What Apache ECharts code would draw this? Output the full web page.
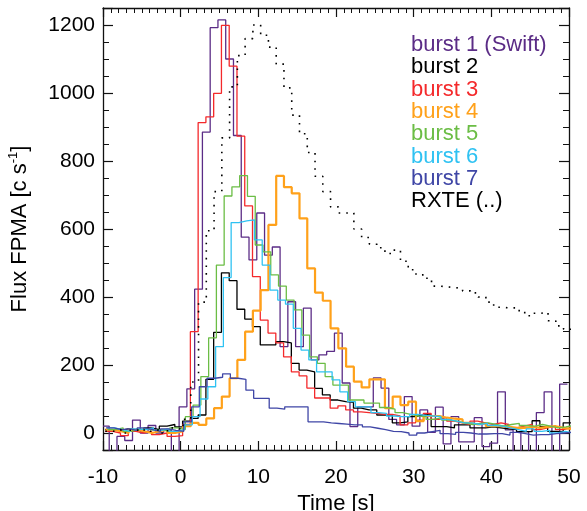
<!DOCTYPE html>
<html><head><meta charset="utf-8">
<script src="https://cdn.jsdelivr.net/npm/echarts@6/dist/echarts.min.js"></script>
<style>html,body{margin:0;padding:0;background:#fff}#c{width:587px;height:511px}</style>
</head><body><div id="c"></div>
<script>
// Bin index k runs from -10 to 49 (1 s bins); each light curve has its own bin-edge offset (s)
const firstBin = -10;
const binWidth = 1;
const seriesNames = ['burst 1 (Swift)', 'burst 2', 'burst 3', 'burst 4', 'burst 5', 'burst 6', 'burst 7', 'RXTE (..)'];
const binOffsets = [-0.2, 0.25, 0.25, 0.3, 0.6, 0.5, 0.4, 0.3];
const burst1 = [20, -60, -10, -22, 38, 0, 22, 0, 8, -60,
  77, 130, 423, 885, 1192, 1215, 1100, 875, 576, 509,
  647, 523, 547, 254, 386, 254, 367, 215, 230, 240,
  294, 147, 19, 77, 77, 162, 132, 40, 24, 107,
  20, 68, 2, 76, -32, 48, -26, -26, 45, -40,
  -30, 121, 9, -60, 4, -60, 60, 121, -60, 144];
const burst2 = [10, 8, 12, 10, 5, 15, 10, 20, 25, 18,
  35, 43, 53, 158, 296, 471, 448, 364, 335, 313,
  259, 259, 269, 265, 205, 185, 180, 131, 112, 97,
  92, 90, 73, 68, 68, 53, 53, 30, 33, 48,
  53, 53, 19, 19, 15, 24, 24, 15, 15, 18,
  15, 12, 10, 4, 4, 36, 19, 5, 4, 30];
const burst3 = [5, 0, -8, 5, 0, 5, -5, 0, -10, -8,
  25, 298, 913, 930, 999, 1199, 1079, 873, 668, 460,
  332, 294, 265, 224, 180, 168, 132, 103, 103, 73,
  80, 68, 62, 60, 58, 55, 55, 50, 24, 30,
  38, 58, 40, 45, 35, 30, 25, 35, 30, 25,
  30, 25, 15, 20, 25, 10, 15, 20, 10, 15];
const burst4 = [10, 5, 0, 10, 5, 0, 5, 10, 0, 5,
  20, 30, 24, 43, 73, 107, 161, 215, 298, 360,
  420, 612, 756, 723, 705, 631, 484, 413, 389, 308,
  249, 195, 151, 134, 158, 158, 73, 107, 82, 92,
  35, 50, 50, 45, 42, 40, 30, 25, 28, 20,
  20, 18, 15, 15, 18, 15, 18, 20, 15, 12];
const burst5 = [10, 15, 5, 10, 12, 8, 10, 5, 15, 10,
  48, 82, 166, 280, 494, 697, 724, 757, 696, 553,
  533, 465, 432, 391, 362, 288, 224, 205, 166, 141,
  141, 97, 97, 88, 88, 75, 70, 60, 55, 50,
  48, 40, 45, 38, 35, 30, 25, 28, 30, 25,
  20, 25, 28, 22, 20, 25, 20, 15, 18, 22];
const burst6 = [15, 10, 5, 12, 10, 15, 8, 12, 5, 10,
  24, 48, 100, 136, 254, 457, 619, 624, 627, 568,
  494, 420, 391, 379, 308, 244, 215, 180, 180, 156,
  121, 92, 77, 77, 60, 58, 50, 48, 48, 55,
  52, 50, 48, 40, 35, 30, 30, 25, 28, 22,
  20, 15, 10, 5, 12, 5, 8, 0, 5, 0];
const burst7 = [15, 10, 12, 8, 15, 10, 5, 12, 8, 5,
  33, 77, 136, 161, 164, 174, 161, 158, 126, 102,
  102, 73, 70, 77, 77, 77, 33, 33, 30, 28,
  26, 24, 24, 18, 14, 10, 5, 4, 0, -6,
  0, 4, 8, -2, -4, 2, 0, -3, -3, -2,
  -2, -6, 2, -2, -6, -5, -5, -2, 0, 2];
const rxte = [5, 10, 0, 8, 12, 5, 10, 0, 15, 10,
  40, 150, 385, 595, 710, 868, 1018, 1110, 1160, 1200,
  1170, 1135, 1085, 1015, 935, 880, 825, 755, 710, 665,
  647, 647, 600, 575, 555, 545, 528, 538, 505, 480,
  465, 455, 432, 430, 428, 425, 418, 412, 400, 385,
  370, 368, 368, 360, 345, 352, 355, 330, 315, 305];
const xTickValues = [-10, 0, 10, 20, 30, 40, 50];
const yTickValues = [0, 200, 400, 600, 800, 1000, 1200];

const allValues = [burst1, burst2, burst3, burst4, burst5, burst6, burst7, rxte];
const colors = ['#5b2c86', '#000000', '#f4292b', '#ffa11a', '#6bbd45', '#2fc2f2', '#3f46a6', '#000000'];
const widths = [1.3, 1.3, 1.3, 2.2, 1.3, 1.3, 1.3, 1.6];

function stepData(vals, off) {
  const pts = [];
  for (let i = 0; i < vals.length; i++) {
    const edge = firstBin + i * binWidth + off;
    pts.push([Math.max(edge, firstBin), vals[i]]);
  }
  pts.push([firstBin + vals.length * binWidth + off, vals[vals.length - 1]]);
  return pts;
}

const FONT = 'Liberation Sans, Arial, Helvetica, sans-serif';
const axisLine = { show: true, onZero: false, lineStyle: { color: '#111', width: 1.3 } };
const noLine = { show: false, onZero: false };

const series = allValues.map((vals, i) => ({
  name: seriesNames[i],
  type: 'line',
  step: 'end',
  showSymbol: false,
  symbol: 'none',
  data: stepData(vals, binOffsets[i]),
  lineStyle: { color: colors[i], width: widths[i], type: i === 7 ? [1.6, 6] : 'solid' },
  itemStyle: { color: colors[i] },
  z: i === 7 ? 3 : 2,
  animation: false
}));

const chart = echarts.init(document.getElementById('c'));
chart.setOption({
  backgroundColor: '#fff',
  animation: false,
  grid: { left: 103, right: 18, top: 8, bottom: 61, containLabel: false, outerBoundsMode: 'none' },
  legend: {
    orient: 'vertical', left: 401, top: 29, itemWidth: 0, itemHeight: 22, itemGap: 0.3,
    icon: 'none', selectedMode: false,
    textStyle: { fontFamily: FONT, fontSize: 22 },
    data: seriesNames.map((n, i) => ({ name: n, textStyle: { color: colors[i] } }))
  },
  xAxis: [
    { type: 'value', min: -10, max: 50, interval: 10, position: 'bottom',
      axisLine, splitLine: { show: false },
      axisTick: { show: true, inside: true, length: 9, lineStyle: { color: '#111', width: 1.2 } },
      minorTick: { show: true, splitNumber: 10, length: 5, lineStyle: { color: '#111', width: 1 } },
      axisLabel: { fontFamily: FONT, fontSize: 21, color: '#000', margin: 17,
        formatter: v => xTickValues.includes(v) ? String(v) : '' },
      name: 'Time [s]', nameLocation: 'middle', nameGap: 37,
      nameTextStyle: { fontFamily: FONT, fontSize: 22, color: '#000' } },
    { type: 'value', min: -10, max: 50, interval: 10, position: 'top',
      axisLine, splitLine: { show: false },
      axisTick: { show: true, inside: true, length: 9, lineStyle: { color: '#111', width: 1.2 } },
      minorTick: { show: true, splitNumber: 10, length: 5, lineStyle: { color: '#111', width: 1 } },
      axisLabel: { show: false } }
  ],
  yAxis: [
    { type: 'value', min: -50, max: 1250, splitNumber: 6, position: 'left', offset: 0,
      axisLine, splitLine: { show: false },
      axisTick: { show: true, inside: true, length: 10, lineStyle: { color: '#111', width: 1.2 } },
      axisLabel: { fontFamily: FONT, fontSize: 21, color: '#000', margin: 8,
        showMinLabel: true, showMaxLabel: true,
        formatter: v => yTickValues.includes(v) ? String(v) : '' },
      name: 'Flux FPMA [c s{sup|-1}]', nameLocation: 'middle', nameGap: 71, nameRotate: 90,
      nameTextStyle: { fontFamily: FONT, fontSize: 22, color: '#000',
        rich: { sup: { fontFamily: FONT, fontSize: 13, color: '#000', padding: [0, 0, 12, 0] } } } },
    { type: 'value', min: -50, max: 1250, splitNumber: 6, position: 'right', offset: 0,
      axisLine, splitLine: { show: false },
      axisTick: { show: true, inside: true, length: 10, lineStyle: { color: '#111', width: 1.2 } },
      axisLabel: { show: false } },
    { type: 'value', min: -50, max: 1250, interval: 50, position: 'left', offset: 0,
      axisLine: noLine, splitLine: { show: false },
      axisTick: { show: true, inside: true, length: 6, lineStyle: { color: '#111', width: 1 } },
      axisLabel: { show: false } },
    { type: 'value', min: -50, max: 1250, interval: 50, position: 'right', offset: 0,
      axisLine: noLine, splitLine: { show: false },
      axisTick: { show: true, inside: true, length: 6, lineStyle: { color: '#111', width: 1 } },
      axisLabel: { show: false } }
  ],
  series
});
</script></body></html>
